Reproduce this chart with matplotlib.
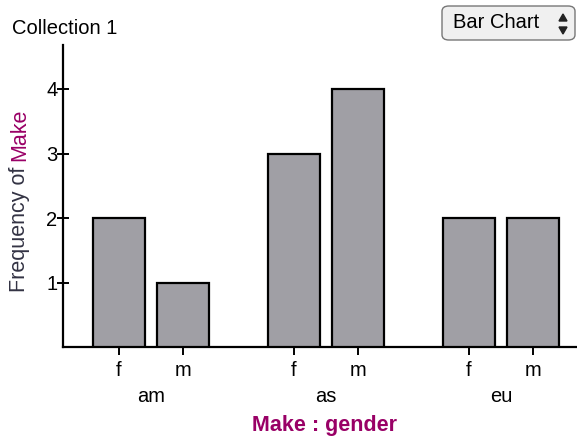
import matplotlib
matplotlib.use("Agg")
import matplotlib.pyplot as plt
from matplotlib.patches import FancyBboxPatch, Polygon
import numpy as np

plt.rcParams['font.family'] = ['Liberation Sans', 'DejaVu Sans']

groups = ["am", "as", "eu"]
genders = ["f", "m"]
counts = [[2, 1], [3, 4], [2, 2]]
yticks = [1, 2, 3, 4]

W, H = 577, 437
fig = plt.figure(figsize=(W / 100, H / 100), dpi=100)

def fx(px):
    return px / W

def fy(py):
    return 1 - py / H

ax = fig.add_axes([fx(63), fy(347), fx(577) - fx(63), fy(45) - fy(347)])

group_gap = 175 / 64.0
bar_w = 52 / 64.0
xs, hs, labels = [], [], []
for g, grp in enumerate(groups):
    for j, gen in enumerate(genders):
        xs.append(g * group_gap + j)
        hs.append(counts[g][j])
        labels.append(gen)

ax.bar(xs, hs, width=bar_w, color="#a09fa5", edgecolor="black", linewidth=1.6, zorder=3)

ax.set_xlim(-56 / 64.0, (577 - 119) / 64.0)
ax.set_ylim(0, (347 - 45) / 64.5)

ax.spines['top'].set_visible(False)
ax.spines['right'].set_visible(False)
for s in ['left', 'bottom']:
    ax.spines[s].set_linewidth(1.6)

FS = 14.5
ax.set_yticks(yticks)
ax.set_yticklabels([str(v) for v in yticks], fontsize=FS)
ax.tick_params(axis='y', direction='inout', length=8, width=1.4, pad=0)
ax.set_xticks(xs)
ax.set_xticklabels(labels, fontsize=FS)
ax.tick_params(axis='x', direction='out', length=6, width=1.4, pad=4)

# group labels
for g, grp in enumerate(groups):
    cx = g * group_gap + 0.5
    ax.annotate(grp, xy=(cx, 0), xycoords=('data', 'axes fraction'),
                xytext=(0, -49), textcoords='offset pixels',
                ha='center', va='center', fontsize=FS)

fig.text(fx(324), fy(425), "Make : gender", ha='center', va='center',
         fontsize=15.5, fontweight='bold', color="#990066")

fig.text(fx(12), fy(29), "Collection 1", ha='left', va='center', fontsize=FS)

# y label in two colors
t1 = fig.text(fx(20), fy(292), "Frequency of", rotation=90, ha='center', va='bottom',
              fontsize=15.5, color="#333344")
fig.canvas.draw()
r = fig.canvas.get_renderer()
bb = t1.get_window_extent(renderer=r)
fig.text(fx(20), (bb.y1 + 6) / H, "Make", rotation=90, ha='center', va='bottom',
         fontsize=15.5, color="#990066")

# Bar Chart button
btn = FancyBboxPatch((fx(442), fy(40)), fx(575) - fx(442), fy(6) - fy(40),
                     boxstyle="round,pad=0,rounding_size=0.012",
                     transform=fig.transFigure, facecolor="#f0f0f0",
                     edgecolor="#777777", linewidth=1.0)
fig.add_artist(btn)
fig.text(fx(453), fy(23), "Bar Chart", ha='left', va='center', fontsize=FS)
up = Polygon([[fx(559), fy(25 - 4)], [fx(567), fy(25 - 4)], [fx(563), fy(25 - 11)]],
             closed=True, transform=fig.transFigure, color="#222222")
dn = Polygon([[fx(559), fy(27)], [fx(567), fy(27)], [fx(563), fy(34)]],
             closed=True, transform=fig.transFigure, color="#222222")
fig.add_artist(up)
fig.add_artist(dn)

fig.savefig("out.png", dpi=100)
